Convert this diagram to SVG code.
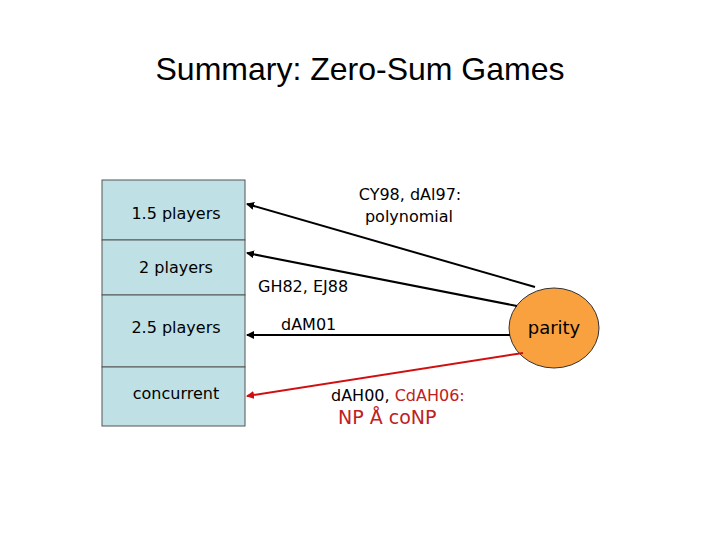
<svg xmlns="http://www.w3.org/2000/svg" width="720" height="540" viewBox="0 0 720 540">
<style>
text{font-family:Verdana,"DejaVu Sans",sans-serif;font-size:16px;fill:#000}
.cell{fill:#bfe0e4;stroke:#555;stroke-width:1}
.blk{stroke:#000;stroke-width:2;fill:none;marker-end:url(#ab)}
.red{stroke:#d01010;stroke-width:2;fill:none;marker-end:url(#ar)}
</style>
<defs>
<marker id="ab" markerWidth="8" markerHeight="8" refX="7" refY="4" orient="auto" markerUnits="userSpaceOnUse"><path d="M0,0 L8,4 L0,8 z" fill="#000"/></marker>
<marker id="ar" markerWidth="8" markerHeight="8" refX="7" refY="4" orient="auto" markerUnits="userSpaceOnUse"><path d="M0,0 L8,4 L0,8 z" fill="#d01010"/></marker>
</defs>
<text x="360" y="80" text-anchor="middle" style="font-family:'Liberation Sans',Arial,sans-serif;font-size:32px">Summary: Zero-Sum Games</text>
<g id="table">
<rect class="cell" x="102" y="180" width="143" height="60"/>
<rect class="cell" x="102" y="240" width="143" height="55"/>
<rect class="cell" x="102" y="295" width="143" height="72"/>
<rect class="cell" x="102" y="367" width="143" height="59"/>
<text x="176" y="219" text-anchor="middle">1.5 players</text>
<text x="176" y="273" text-anchor="middle">2 players</text>
<text x="176" y="333" text-anchor="middle">2.5 players</text>
<text x="176" y="399" text-anchor="middle">concurrent</text>
</g>
<g id="parity">
<ellipse cx="554" cy="328" rx="45" ry="40" fill="#f9a03f" stroke="#333" stroke-width="1"/>
<text x="554" y="334" text-anchor="middle" font-size="18" style="font-size:18px">parity</text>
</g>
<g id="connectors">
<line class="blk" x1="535" y1="287" x2="247" y2="204"/>
<line class="blk" x1="517" y1="306" x2="247" y2="253"/>
<line class="blk" x1="510" y1="335" x2="247" y2="335"/>
<line class="red" x1="523" y1="353" x2="247" y2="396"/>
</g>
<g id="labels">
<text x="410" y="200" text-anchor="middle">CY98, dAl97:</text>
<text x="409" y="222" text-anchor="middle">polynomial</text>
<text x="258" y="292">GH82, EJ88</text>
<text x="281" y="330">dAM01</text>
<text x="331" y="401">dAH00, <tspan fill="#c02020" style="fill:#c02020">CdAH06:</tspan></text>
<text x="338" y="424" style="fill:#c02020;font-size:19px">NP Å coNP</text>
</g>
</svg>
